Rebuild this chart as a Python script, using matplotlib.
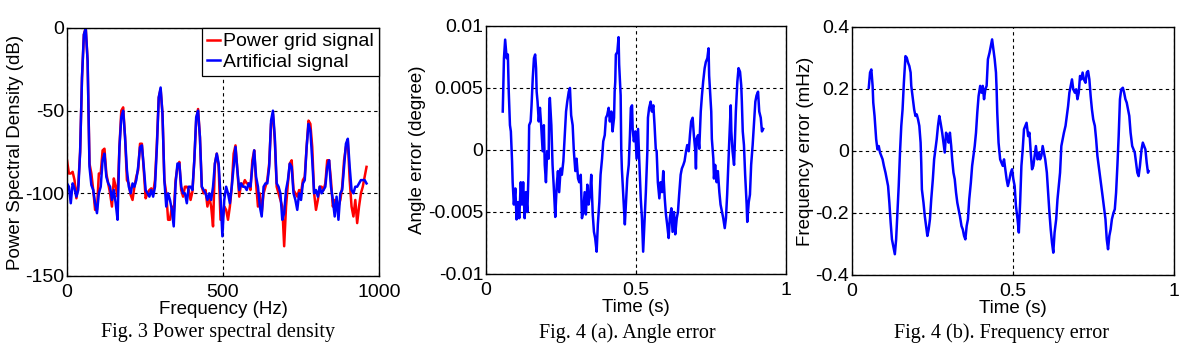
import numpy as np
import matplotlib
matplotlib.use("Agg")
import matplotlib.pyplot as plt

plt.rcParams['font.family'] = ['Liberation Sans', 'DejaVu Sans']
plt.rcParams['axes.unicode_minus'] = False

# Fig. 3 - power spectral density (dB), sampled every 6 Hz
freq = np.arange(0, 961, 6)
psd_grid = [-80, -88, -88, -87, -92, -103, -95, -75, -30, -4, 0, -20, -82, -88, -98, -110, -110, -88, -88, -74,
            -73, -88, -94, -100, -108, -91, -96, -102, -72, -50, -48, -66, -92, -94, -101, -104, -96, -90, -86, -70,
            -70, -86, -103, -100, -98, -97, -100, -92, -70, -42, -37, -52, -92, -100, -116, -116, -108, -112, -92, -84,
            -81, -98, -102, -96, -96, -98, -104, -99, -80, -56, -49, -66, -96, -100, -98, -108, -102, -108, -120, -82,
            -76, -84, -116, -116,
            -108, -110, -116, -108, -96, -76, -71, -86, -102, -94, -95, -92, -94, -94, -98, -80, -74, -94, -108, -100,
            -112, -100, -96, -92, -82, -58, -52, -68, -96, -100, -104, -108, -132, -108, -94, -82, -80, -98, -100, -102,
            -98, -100, -92, -90, -72, -56, -58, -72, -100, -110, -104, -96, -96, -98, -94, -80, -80, -92, -108, -104,
            -108, -108, -104, -96, -80, -72, -68, -92, -108, -114, -104, -118, -108, -100, -96, -90, -84]
psd_art = [-94, -96, -106, -94, -97, -102, -98, -75, -30, -4, 0, -20, -84, -95, -98, -106, -112, -100, -96, -80,
           -76, -90, -94, -96, -104, -98, -106, -116, -72, -54, -50, -66, -86, -96, -100, -94, -96, -92, -84, -72,
           -71, -84, -98, -100, -102, -98, -102, -96, -72, -42, -36, -52, -92, -108, -100, -104, -110, -120, -94, -82,
           -82, -96, -100, -100, -106, -96, -96, -98, -80, -54, -50, -66, -96, -98, -100, -104, -100, -104, -96, -82,
           -76, -82, -102, -126,
           -104, -96, -100, -106, -96, -84, -72, -86, -98, -94, -96, -96, -98, -94, -96, -84, -74, -90, -96, -108,
           -114, -96, -94, -94, -84, -56, -50, -66, -94, -96, -100, -116, -112, -98, -92, -82, -84, -100, -104, -110,
           -100, -104, -94, -92, -72, -58, -62, -80, -100, -98, -102, -96, -100, -98, -96, -84, -80, -96, -104, -114,
           -102, -116, -100, -98, -84, -70, -67, -84, -98, -100, -96, -96, -94, -92, -92, -92, -94]

# Fig. 4 (a) - angle error (x 0.001 degree)
t_ang = [0.056, 0.060, 0.064, 0.069, 0.073, 0.076, 0.080, 0.083, 0.087, 0.089, 0.093, 0.098, 0.102, 0.107, 0.111,
         0.116, 0.120, 0.124, 0.129, 0.133, 0.138, 0.142, 0.144, 0.149, 0.152, 0.156, 0.160, 0.164, 0.167, 0.169,
         0.172, 0.176, 0.180, 0.184, 0.189, 0.193, 0.196, 0.200, 0.204, 0.209, 0.211, 0.213, 0.218, 0.222, 0.227,
         0.231, 0.236, 0.240, 0.244, 0.249, 0.253, 0.258, 0.262, 0.267, 0.271, 0.276, 0.280, 0.284, 0.289, 0.293,
         0.298, 0.302, 0.307, 0.311, 0.316, 0.320, 0.324, 0.329, 0.333, 0.338, 0.342, 0.347, 0.351, 0.356, 0.360,
         0.364, 0.369, 0.373, 0.378, 0.382, 0.387, 0.391, 0.396, 0.400, 0.404, 0.409, 0.413, 0.418, 0.422, 0.427,
         0.429, 0.431, 0.433, 0.438, 0.442, 0.444, 0.449, 0.451, 0.453, 0.457, 0.460, 0.463, 0.467, 0.471, 0.476,
         0.480, 0.483, 0.487, 0.489, 0.493, 0.498, 0.502, 0.507,
         0.511, 0.516, 0.520, 0.524, 0.529, 0.533, 0.538, 0.540, 0.544, 0.549, 0.553, 0.558, 0.562, 0.566, 0.569,
         0.573, 0.578, 0.582, 0.587, 0.591, 0.596, 0.600, 0.604, 0.609, 0.613, 0.618, 0.622, 0.627, 0.631, 0.636,
         0.640, 0.644, 0.649, 0.653, 0.658, 0.662, 0.667, 0.671, 0.676, 0.680, 0.684, 0.689, 0.693, 0.698, 0.700,
         0.702, 0.707, 0.711, 0.716, 0.720, 0.724, 0.729, 0.733, 0.738, 0.742, 0.744, 0.747, 0.751, 0.753, 0.758,
         0.760, 0.764, 0.769, 0.773, 0.778, 0.782, 0.787, 0.791, 0.796, 0.800, 0.804, 0.807, 0.811, 0.816, 0.818,
         0.822, 0.827, 0.829, 0.833, 0.838, 0.842, 0.847, 0.851, 0.853, 0.856, 0.860, 0.864, 0.869, 0.871, 0.876,
         0.880, 0.884, 0.889, 0.893, 0.898, 0.902, 0.907, 0.911, 0.916, 0.920, 0.924]
ang_err = [3.1, 7.4, 8.9, 7.4, 7.7, 4.7, 2.0, 1.5, -0.9, -2.6, -4.4, -3.1, -5.6, -4.2, -5.5,
           -2.6, -4.4, -2.6, -5.5, -3.4, -5.0, -1.7, 2.0, 2.3, 3.6, 5.8, 7.4, 7.7, 6.6, 4.7,
           3.9, 2.3, 3.4, 2.0, -0.1, 2.0, -1.2, -2.6, -0.1, -0.7, 3.6, 4.2, 2.0, -1.2, -3.4,
           -5.4, -2.8, -1.7, -3.4, -1.5, -2.0, -0.9, 0.9, 3.1, 3.9, 4.7, 5.0, 2.8, 2.0, -0.1,
           -1.7, -0.7, -2.3, -2.6, -2.0, -5.5, -5.0, -3.4, -5.2, -2.8, -4.4, -3.6, -2.0, -5.2, -6.6,
           -7.1, -8.2, -6.0, -4.2, -2.0, -0.7, 0.7, 1.2, 2.6, 2.8, 3.4, 2.3, 3.1, 1.5, 2.6,
           4.7, 5.5, 7.7, 7.9, 9.1, 6.9, 4.4, 0.1, -1.5, -3.4, -4.7, -6.0, -4.2, -2.3, -1.2,
           1.2, 3.4, 3.6, 1.7, 0.7, 1.5, -0.7, 1.7,
           -0.7, -3.9, -5.5, -8.2, -5.5, -3.4, -0.1, 2.6, 3.4, 3.9, 3.1, 3.6, 2.0, 0.1, -0.1,
           -2.6, -3.9, -2.6, -3.4, -1.7, -3.9, -5.2, -6.0, -7.1, -5.5, -4.7, -6.6, -5.0, -6.8, -5.5,
           -5.0, -3.6, -2.0, -1.5, -1.2, -0.9, -0.1, 0.4, -0.1, 1.2, 2.3, 2.6, 1.2, -0.1, -1.5,
           0.9, 1.2, 0.1, 3.1, 4.4, 5.5, 6.6, 7.1, 7.4, 8.2, 6.0, 4.7, 3.1, 0.9, -0.7,
           -2.3, -1.2, -2.6, -1.7, -3.4, -4.4, -5.0, -5.5, -6.3, -5.5, -3.6, -1.7, 0.7, 3.6, 1.5,
           -0.1, -1.2, 0.1, 3.1, 5.5, 6.6, 6.3, 5.2, 3.9, 1.5, 0.4, -2.0, -4.4, -5.8, -4.2,
           -3.6, -1.2, 0.4, 2.0, 3.9, 4.4, 4.7, 3.1, 2.6, 1.5, 1.7]

# Fig. 4 (b) - frequency error (mHz)
t_frq = [0.052, 0.056, 0.060, 0.064, 0.066, 0.070, 0.075, 0.079, 0.083, 0.087, 0.091, 0.095, 0.099, 0.104, 0.108,
         0.112, 0.116, 0.120, 0.124, 0.128, 0.133, 0.137, 0.141, 0.145, 0.149, 0.153, 0.157, 0.161, 0.166, 0.170,
         0.174, 0.178, 0.182, 0.184, 0.188, 0.193, 0.197, 0.201, 0.205, 0.209, 0.213, 0.215, 0.217, 0.222, 0.226,
         0.230, 0.234, 0.238, 0.242, 0.246, 0.251, 0.255, 0.259, 0.263, 0.267, 0.271, 0.275, 0.280, 0.284, 0.288,
         0.292, 0.296, 0.300, 0.304, 0.308, 0.311, 0.315, 0.319, 0.323, 0.327, 0.331, 0.335, 0.340, 0.344, 0.348,
         0.352, 0.356, 0.360, 0.364, 0.369, 0.373, 0.377, 0.381, 0.385, 0.389, 0.393, 0.398, 0.402, 0.406, 0.410,
         0.414, 0.418, 0.420, 0.422, 0.427, 0.431, 0.435, 0.439, 0.443, 0.447, 0.449, 0.451, 0.455, 0.460, 0.464,
         0.468, 0.472, 0.476, 0.480, 0.484, 0.489, 0.493, 0.497, 0.501,
         0.505, 0.509, 0.514, 0.518, 0.522, 0.526, 0.530, 0.534, 0.538, 0.542, 0.547, 0.551, 0.555, 0.559, 0.563,
         0.567, 0.571, 0.576, 0.580, 0.584, 0.588, 0.592, 0.596, 0.600, 0.605, 0.609, 0.613, 0.617, 0.621, 0.625,
         0.629, 0.634, 0.638, 0.642, 0.646, 0.650, 0.654, 0.658, 0.663, 0.667, 0.671, 0.675, 0.679, 0.683, 0.687,
         0.692, 0.696, 0.700, 0.704, 0.708, 0.712, 0.716, 0.720, 0.725, 0.729, 0.733, 0.737, 0.741, 0.745, 0.749,
         0.754, 0.758, 0.762, 0.766, 0.770, 0.774, 0.778, 0.783, 0.787, 0.791, 0.795, 0.799, 0.803, 0.807, 0.812,
         0.816, 0.820, 0.824, 0.828, 0.832, 0.836, 0.841, 0.845, 0.849, 0.853, 0.857, 0.861, 0.865, 0.870, 0.874,
         0.878, 0.882, 0.886, 0.890, 0.894, 0.899, 0.903, 0.907, 0.911, 0.915, 0.919, 0.921]
frq_err = [0.204, 0.253, 0.263, 0.210, 0.156, 0.113, 0.038, 0.005, 0.016, -0.005, -0.016, -0.027, -0.048, -0.070, -0.091,
           -0.113, -0.167, -0.231, -0.285, -0.306, -0.333, -0.285, -0.199, -0.113, -0.005, 0.081, 0.134, 0.220, 0.306, 0.301,
           0.285, 0.274, 0.253, 0.210, 0.177, 0.134, 0.113, 0.118, 0.102, 0.081, 0.027, -0.038, -0.124, -0.167, -0.210,
           -0.242, -0.274, -0.253, -0.220, -0.156, -0.091, -0.027, 0.005, 0.038, 0.081, 0.113, 0.091, 0.059, 0.027, -0.005,
           0.059, 0.048, 0.027, 0.059, 0.016, -0.027, -0.070, -0.091, -0.134, -0.167, -0.188, -0.210, -0.242, -0.253, -0.274,
           -0.285, -0.242, -0.220, -0.156, -0.102, -0.048, -0.016, 0.016, 0.059, 0.124, 0.177, 0.210, 0.188, 0.210, 0.167,
           0.199, 0.210, 0.253, 0.296, 0.317, 0.339, 0.360, 0.328, 0.296, 0.253, 0.199, 0.124, 0.027, -0.027, -0.038,
           -0.048, -0.027, -0.059, -0.091, -0.113, -0.091, -0.070, -0.059, -0.091,
           -0.113, -0.177, -0.220, -0.263, -0.167, -0.048, 0.005, 0.070, 0.081, 0.091, 0.048, 0.059, -0.005, -0.059, -0.048,
           -0.016, 0.016, -0.027, -0.005, -0.027, -0.016, 0.016, -0.005, -0.027, -0.070, -0.134, -0.199, -0.253, -0.296, -0.328,
           -0.263, -0.220, -0.156, -0.113, -0.070, 0.016, 0.038, 0.059, 0.081, 0.113, 0.145, 0.188, 0.210, 0.231, 0.199,
           0.188, 0.199, 0.167, 0.188, 0.242, 0.231, 0.253, 0.231, 0.220, 0.253, 0.258, 0.231, 0.177, 0.134, 0.102,
           0.081, 0.038, -0.016, -0.048, -0.081, -0.113, -0.145, -0.188, -0.220, -0.285, -0.317, -0.274, -0.253, -0.220, -0.199,
           -0.188, -0.134, -0.048, 0.048, 0.167, 0.199, 0.204, 0.188, 0.167, 0.156, 0.134, 0.113, 0.059, 0.016, 0.005,
           -0.005, -0.038, -0.070, -0.081, -0.048, 0.005, 0.027, 0.016, 0.005, -0.038, -0.070, -0.065]

captions = ['Fig. 3 Power spectral density', 'Fig. 4 (a). Angle error', 'Fig. 4 (b). Frequency error']

fig = plt.figure(figsize=(11.99, 3.57), dpi=100)
ax1 = fig.add_axes([0.0559, 0.2269, 0.2602, 0.6947])
ax2 = fig.add_axes([0.4053, 0.2325, 0.2502, 0.6947])
ax3 = fig.add_axes([0.7106, 0.2297, 0.2686, 0.6947])

fs_tick = 14
fs_lab = 13.5
lw = 1.8

ax1.plot(freq, psd_grid, color='#ff0000', lw=lw, label='Power grid signal')
ax1.plot(freq, psd_art, color='#0000ff', lw=lw, label='Artificial signal')
ax1.set(xlim=[0, 1000], ylim=[-150, 0], xticks=[0, 500, 1000], yticks=[-150, -100, -50, 0])
ax1.set_xlabel('Frequency (Hz)', fontsize=fs_lab, labelpad=0)
ax1.set_ylabel('Power Spectral Density (dB)', fontsize=fs_lab, labelpad=1)
leg = ax1.legend(loc='upper right', fontsize=fs_tick, handlelength=0.7, handletextpad=0.15,
                 borderaxespad=0, borderpad=0.25, labelspacing=0.15, fancybox=False, framealpha=1)
leg.get_frame().set_edgecolor('k')
leg.get_frame().set_linewidth(0.9)

ax2.plot(t_ang, np.array(ang_err) * 1e-3, color='#0000ff', lw=lw)
ax2.set(xlim=[0, 1], ylim=[-0.01, 0.01], xticks=[0, 0.5, 1], yticks=[-0.01, -0.005, 0, 0.005, 0.01])
ax2.set_xticklabels(['0', '0.5', '1'])
ax2.set_yticklabels(['-0.01', '-0.005', '0', '0.005', '0.01'])
ax2.set_xlabel('Time (s)', fontsize=fs_lab, labelpad=0)
ax2.set_ylabel('Angle error (degree)', fontsize=fs_lab, labelpad=1)

ax3.plot(t_frq, frq_err, color='#0000ff', lw=lw)
ax3.set(xlim=[0, 1], ylim=[-0.4, 0.4], xticks=[0, 0.5, 1], yticks=[-0.4, -0.2, 0, 0.2, 0.4])
ax3.set_xticklabels(['0', '0.5', '1'])
ax3.set_yticklabels(['-0.4', '-0.2', '0', '0.2', '0.4'])
ax3.set_xlabel('Time (s)', fontsize=fs_lab, labelpad=0)
ax3.set_ylabel('Frequency error (mHz)', fontsize=fs_lab, labelpad=1)

for ax in (ax1, ax2, ax3):
    ax.grid(True, ls=(0, (3, 3)), color='k', lw=0.8)
    ax.tick_params(direction='in', labelsize=fs_tick, length=3)
    ax.tick_params(axis='x', pad=5.5)
    ax.tick_params(axis='y', pad=2)
    for sp in ax.spines.values():
        sp.set_linewidth(1.0)

# captions under each panel
for xc, txt in zip([0.182, 0.523, 0.835], captions):
    fig.text(xc, 0.068, txt, ha='center', va='center', fontsize=14.5, family='Liberation Serif')

fig.savefig('out.png', dpi=100)
